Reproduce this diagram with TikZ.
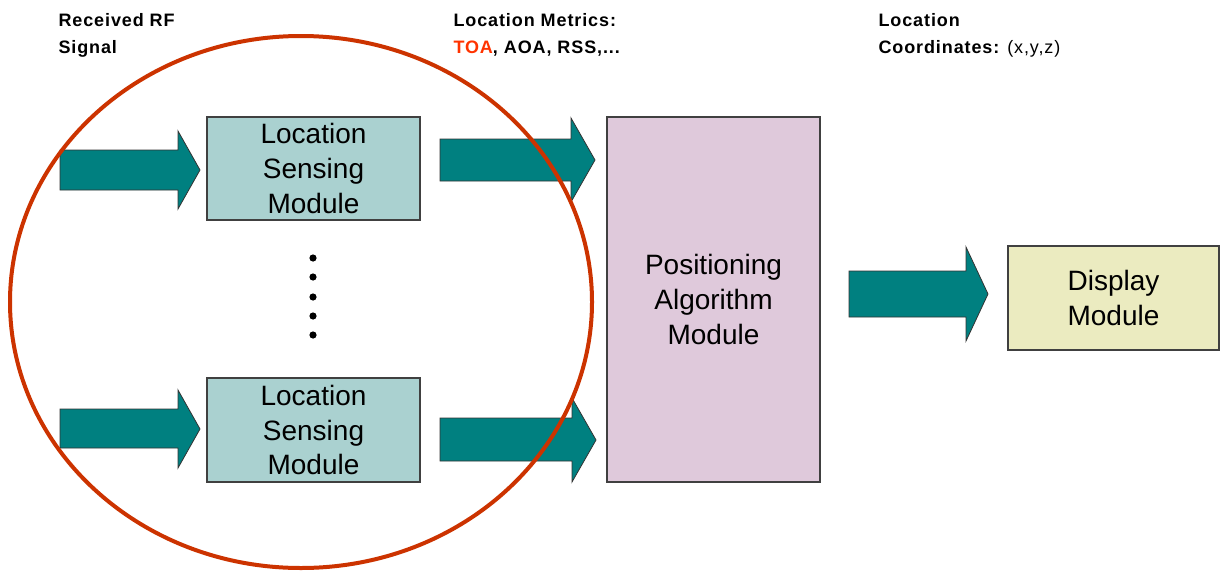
\documentclass[tikz,border=0pt]{standalone}
\usepackage{fontspec}
\setmainfont{Liberation Sans}
\definecolor{arrowteal}{RGB}{0,128,128}
\definecolor{sensefill}{RGB}{170,209,208}
\definecolor{posfill}{RGB}{223,201,219}
\definecolor{dispfill}{RGB}{235,235,192}
\definecolor{ringred}{RGB}{204,51,0}
\definecolor{metricred}{RGB}{255,51,0}

\tikzset{every picture/.style={line width=0.75pt}}

\begin{document}
\begin{tikzpicture}[x=0.75pt,y=0.75pt,yscale=-1,xscale=1,
    modbox/.style={draw=black!75, line width=1.1pt, align=center, inner sep=0pt,
      font=\fontsize{21}{26}\selectfont},
    fatarrow/.style={draw=black!80, line width=0.6pt, fill=arrowteal},
    heading/.style={anchor=north west, align=left, inner sep=0pt,
      font=\fontsize{13.5}{20}\selectfont\bfseries\addfontfeature{LetterSpace=5}}]
    %set diagram size
    \useasboundingbox (0,0) rectangle (1220,571);
    %Headings
    \node[heading] (hdrSignal) at (58,13) {Received RF\\Signal};
    \node[heading] (hdrMetrics) at (453,13) {Location Metrics:\\\textcolor{metricred}{TOA}, AOA, RSS,...};
    \node[heading] (hdrCoords) at (878,13) {Location\\Coordinates: {\mdseries\addfontfeature{LetterSpace=5}(x,y,z)}};
    %Modules
    \node[modbox, fill=sensefill, minimum width=159.75pt, minimum height=77.25pt] (senseA) at (313.5,168.5) {Location\\Sensing\\Module};
    \node[modbox, fill=sensefill, minimum width=159.75pt, minimum height=78pt] (senseB) at (313.5,430) {Location\\Sensing\\Module};
    \node[modbox, fill=posfill, minimum width=160pt, minimum height=273.75pt] (posalg) at (713.5,299.5) {Positioning\\Algorithm\\Module};
    \node[modbox, fill=dispfill, minimum width=158.25pt, minimum height=78pt] (display) at (1113.5,298) {Display\\Module};
    %Dots
    \foreach \y in {258,277,297,316,335}
      \fill (313,\y) circle (3.6);
    %Right Arrow
    \draw[fatarrow] (60,150) -- (178,150) -- (178,131) -- (200,170) -- (178,209) -- (178,190) -- (60,190) -- cycle ;
    %Right Arrow
    \draw[fatarrow] (440,139) -- (571,139) -- (571,118) -- (595,160) -- (571,202) -- (571,181) -- (440,181) -- cycle ;
    %Right Arrow
    \draw[fatarrow] (60,409) -- (178,409) -- (178,390) -- (200,429) -- (178,468) -- (178,448) -- (60,448) -- cycle ;
    %Right Arrow
    \draw[fatarrow] (440,418) -- (572,418) -- (572,398) -- (596,440) -- (572,482) -- (572,461) -- (440,461) -- cycle ;
    %Right Arrow
    \draw[fatarrow] (849,271) -- (966,271) -- (966,247) -- (988,294) -- (966,341) -- (966,317) -- (849,317) -- cycle ;
    %Ellipse
    \draw[ringred, line width=3pt] (301,302) ellipse (291 and 266) ;
\end{tikzpicture}
\end{document}
